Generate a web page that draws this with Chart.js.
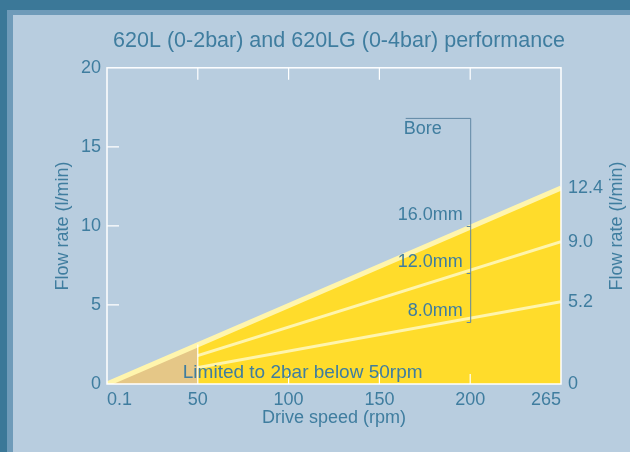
<!DOCTYPE html>
<html>
<head>
<meta charset="utf-8">
<script src="https://cdn.jsdelivr.net/npm/chart.js@4"></script>
<style>
  body { margin: 0; }
  #wrap { position: relative; width: 630px; height: 452px; background: #b8cddf; overflow: hidden; }
  .band { position: absolute; }
  #flowChart { position: absolute; left: 0; top: 0; }
</style>
</head>
<body>
<div id="wrap">
  <div class="band" style="left:7px;top:10px;width:623px;height:5px;background:#6f9bb9"></div>
  <div class="band" style="left:7px;top:10px;width:6px;height:442px;background:#6f9bb9"></div>
  <div class="band" style="left:0;top:0;width:630px;height:10px;background:#3b7898"></div>
  <div class="band" style="left:0;top:0;width:7px;height:452px;background:#3b7898"></div>
  <canvas id="flowChart" width="630" height="452"></canvas>
</div>
<script>
// Drive speed axis labels (evenly spaced on the original chart)
const speedLabels = ['0.1', '50', '100', '150', '200', '265'];
const lineSpeeds = ['0.1', '265'];
const limitSpeeds = ['0.1', '50'];

// Flow rate (l/min) per bore
const boreSizes = ['16.0mm', '12.0mm', '8.0mm'];
const flow16 = [0, 12.4];
const flow12 = [0, 9.0];
const flow8 = [0, 5.2];
const limited2bar = [0, 2.5];

// Axis ticks
const leftTicks = [0, 5, 10, 15, 20];
const rightTicks = [0, 5.2, 9.0, 12.4];

// Bore bracket marks (flow value where each mark sits, at 200 rpm)
const boreMarks = [10.0, 7.0, 3.9];
const bracketTop = 16.8;

const textColor = '#3f7d9f';
const yellow = '#ffdc2b';
const pale = '#fff5ad';
const orange = '#e5c787';
const fontFamily = "'Liberation Sans', Arial, Helvetica, sans-serif";

Chart.defaults.font.family = fontFamily;
Chart.defaults.font.size = 18;
Chart.defaults.color = textColor;

const pts = (speeds, flows) => speeds.map((s, i) => ({ x: speedLabels.indexOf(s), y: flows[i] }));

const decorations = {
  id: 'decorations',
  afterDatasetsDraw(chart) {
    const { ctx, chartArea: a, scales: { x, y } } = chart;
    ctx.save();

    // white frame + inward ticks
    ctx.strokeStyle = '#ffffff';
    ctx.lineWidth = 1.5;
    ctx.strokeRect(a.left, a.top, a.right - a.left, a.bottom - a.top);
    ctx.lineWidth = 1.2;
    ctx.beginPath();
    for (let i = 1; i < speedLabels.length - 1; i++) {
      const px = x.getPixelForValue(i);
      ctx.moveTo(px, a.top); ctx.lineTo(px, a.top + 12);
      if (i > 1) { ctx.moveTo(px, a.bottom); ctx.lineTo(px, a.bottom - 10); }
    }
    leftTicks.slice(1, -1).forEach(v => {
      const py = y.getPixelForValue(v);
      ctx.moveTo(a.left, py); ctx.lineTo(a.left + 12, py);
    });
    // edge of the limited region at 50 rpm
    const px50 = x.getPixelForValue(speedLabels.indexOf('50'));
    ctx.moveTo(px50, a.bottom); ctx.lineTo(px50, y.getPixelForValue(limited2bar[1]));
    ctx.stroke();

    // bore bracket
    const bx = x.getPixelForValue(speedLabels.indexOf('200')) + 0.5;
    const topY = y.getPixelForValue(bracketTop);
    const botY = y.getPixelForValue(boreMarks[boreMarks.length - 1]);
    ctx.strokeStyle = '#5f87a4';
    ctx.lineWidth = 1;
    ctx.beginPath();
    ctx.moveTo(bx - 65, topY); ctx.lineTo(bx, topY); ctx.lineTo(bx, botY);
    boreMarks.forEach(v => {
      const py = Math.round(y.getPixelForValue(v)) + 0.5;
      ctx.moveTo(bx - 4, py); ctx.lineTo(bx, py);
    });
    ctx.stroke();

    ctx.fillStyle = textColor;
    ctx.font = '18px ' + fontFamily;
    ctx.textBaseline = 'middle';
    ctx.textAlign = 'left';
    ctx.fillText('Bore', bx - 67, topY + 11);
    ctx.textAlign = 'right';
    boreSizes.forEach((b, i) => {
      ctx.fillText(b, bx - 8, y.getPixelForValue(boreMarks[i]) - 11);
    });

    ctx.textAlign = 'left';
    ctx.font = '19px ' + fontFamily;
    ctx.fillText('Limited to 2bar below 50rpm', px50 - 15, a.bottom - 11);

    // right axis title, reading bottom to top
    ctx.font = '18px ' + fontFamily;
    ctx.translate(617, (a.top + a.bottom) / 2);
    ctx.rotate(-Math.PI / 2);
    ctx.textAlign = 'center';
    ctx.fillText('Flow rate (l/min)', 0, 0);
    ctx.restore();
  }
};

const ctx = document.getElementById('flowChart').getContext('2d');
const flowChart = new Chart(ctx, {
  type: 'line',
  data: {
    datasets: [
      { label: boreSizes[0], data: pts(lineSpeeds, flow16), borderColor: pale, borderWidth: 5, fill: false, order: 1 },
      { label: 'Limited', data: pts(limitSpeeds, limited2bar), borderColor: 'transparent', borderWidth: 0, backgroundColor: orange, fill: 'origin', order: 2 },
      { label: boreSizes[1], data: pts(lineSpeeds, flow12), borderColor: pale, borderWidth: 3, fill: false, order: 3 },
      { label: boreSizes[2], data: pts(lineSpeeds, flow8), borderColor: pale, borderWidth: 3, fill: false, order: 4 },
      { label: 'area', data: pts(lineSpeeds, flow16), borderColor: 'transparent', borderWidth: 0, backgroundColor: yellow, fill: 'origin', order: 5 }
    ]
  },
  options: {
    responsive: false,
    animation: false,
    elements: { point: { radius: 0 }, line: { tension: 0 } },
    layout: { padding: { left: 48, right: 0, top: 0, bottom: 19 } },
    plugins: {
      legend: { display: false },
      tooltip: { enabled: false },
      title: {
        display: true,
        text: '620L (0-2bar) and 620LG (0-4bar) performance',
        color: textColor,
        font: { size: 21.5, weight: 'normal' },
        padding: { top: 28, bottom: 14 }
      }
    },
    scales: {
      x: {
        type: 'linear',
        min: 0,
        max: speedLabels.length - 1,
        afterBuildTicks: s => { s.ticks = speedLabels.map((l, i) => ({ value: i })); },
        ticks: { callback: v => speedLabels[v], padding: 5, align: 'inner', maxRotation: 0, autoSkip: false },
        grid: { display: false, drawTicks: false },
        border: { display: false },
        title: { display: true, text: 'Drive speed (rpm)', padding: { top: 0, bottom: 4 } },
        afterFit: s => { s.height = 49; }
      },
      y: {
        min: 0,
        max: 20,
        afterBuildTicks: s => { s.ticks = leftTicks.map(v => ({ value: v })); },
        ticks: { padding: 6 },
        grid: { display: false, drawTicks: false },
        border: { display: false },
        title: { display: true, text: 'Flow rate (l/min)', padding: { top: 4, bottom: 0 } },
        afterFit: s => { s.width = 59; }
      },
      y2: {
        position: 'right',
        min: 0,
        max: 20,
        afterBuildTicks: s => { s.ticks = rightTicks.map(v => ({ value: v })); },
        ticks: { callback: v => (v === 0 ? '0' : v.toFixed(1)), padding: 7 },
        grid: { display: false, drawTicks: false },
        border: { display: false },
        afterFit: s => { s.width = 69; }
      }
    }
  },
  plugins: [decorations]
});
</script>
</body>
</html>
